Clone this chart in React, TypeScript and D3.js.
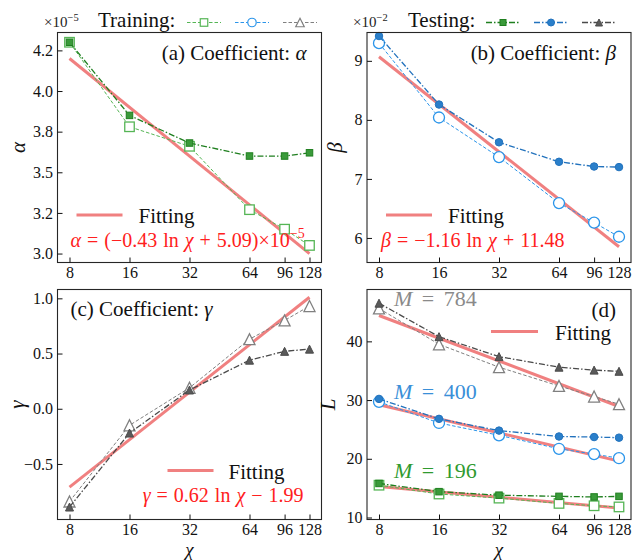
import { useEffect, useRef } from "react";
import * as d3 from "d3";

// ─── Data ────────────────────────────────────────────────────────────────────
const chi = [8, 16, 32, 64, 96, 128];
const chiTickLabels = ["8", "16", "32", "64", "96", "128"];
const fitChi = [8, 128];

// (a) alpha, in units of 1e-5
const alphaTrain = [4.30, 3.78, 3.66, 3.27, 3.15, 3.05];
const alphaTest = [4.30, 3.85, 3.68, 3.60, 3.60, 3.62];
const alphaFit = [4.20, 3.0];
const alphaTicks = [3.0, 3.25, 3.5, 3.75, 4.0, 4.25];
const alphaTickLabels = ["3.0", "3.2", "3.5", "3.8", "4.0", "4.2"];

// (b) beta, in units of 1e-2
const betaTrain = [9.30, 8.04, 7.37, 6.59, 6.26, 6.02];
const betaTest = [9.42, 8.26, 7.62, 7.29, 7.21, 7.20];
const betaFit = [9.07, 5.85];
const betaTicks = [6, 7, 8, 9];
const betaTickLabels = ["6", "7", "8", "9"];

// (c) gamma
const gammaTrain = [-0.84, -0.15, 0.19, 0.63, 0.80, 0.93];
const gammaTest = [-0.89, -0.22, 0.17, 0.44, 0.52, 0.54];
const gammaFit = [-0.71, 1.01];
const gammaTicks = [-0.5, 0, 0.5, 1.0];
const gammaTickLabels = ["\u22120.5", "0.0", "0.5", "1.0"];

// (d) loss L for three M
const lossTrain784 = [45.6, 39.5, 35.6, 32.4, 30.6, 29.3];
const lossTest784 = [46.5, 40.8, 37.4, 35.6, 35.1, 34.9];
const lossFit784 = [44.4, 28.9];
const lossTrain400 = [29.7, 26.1, 24.0, 21.7, 20.8, 20.1];
const lossTest400 = [30.2, 26.8, 24.8, 23.8, 23.7, 23.6];
const lossFit400 = [29.2, 19.6];
const lossTrain196 = [15.5, 14.0, 13.3, 12.4, 12.0, 11.8];
const lossTest196 = [15.8, 14.4, 13.8, 13.6, 13.5, 13.6];
const lossFit196 = [15.3, 11.6];
const lossTicks = [10, 20, 30, 40];
const lossTickLabels = ["10", "20", "30", "40"];

// ─── Style ───────────────────────────────────────────────────────────────────
const FONT = "Times New Roman, Liberation Serif, Times, DejaVu Serif, serif";
const INK = "#111";
const FRAME = "#262626";
const FIT = "#f08080";
const FORMULA = "#ff2020";
const GREEN_TRAIN = "#55b555";
const GREEN_TEST = "#1f7f1f";
const GREEN_FILL = "#3a9a3a";
const BLUE_TRAIN = "#2b95ea";
const BLUE_TEST = "#2272bd";
const BLUE_FILL = "#2a7fca";
const GRAY_TRAIN = "#808080";
const GRAY_TEST = "#4a4a4a";
const GRAY_FILL = "#5a5a5a";

const W = 264;
const H = 230;
const TRAIN_DASH = "3.5,2";
const TEST_DASH = "6,2,1.5,2";

type Shape = "square" | "circle" | "triangle";
type Sel = d3.Selection<any, unknown, null, undefined>;

interface SeriesSpec {
  values: number[];
  shape: Shape;
  test: boolean;
  color: string;
  fill?: string;
}

interface PanelSpec {
  left: number;
  top: number;
  yDomain: [number, number];
  yTicks: number[];
  yTickLabels: string[];
  fits: number[][];
  series: SeriesSpec[];
}

interface Part {
  t: string;
  i?: boolean;
  sup?: boolean;
}

function richText(
  parent: Sel,
  x: number,
  y: number,
  parts: Part[],
  size: number,
  color: string,
  anchor = "start"
) {
  const t = parent
    .append("text")
    .attr("x", x)
    .attr("y", y)
    .style("font-family", FONT)
    .attr("font-size", size)
    .attr("fill", color)
    .attr("text-anchor", anchor);
  parts.forEach((p) => {
    const s = t.append("tspan").text(p.t);
    if (p.i) s.attr("font-style", "italic");
    if (p.sup) s.attr("font-size", size * 0.7).attr("dy", -size * 0.42);
  });
  return t;
}

function drawMarker(
  g: Sel,
  shape: Shape,
  cx: number,
  cy: number,
  size: number,
  fill: string,
  stroke: string,
  sw: number
) {
  if (shape === "square") {
    g.append("rect")
      .attr("x", cx - size / 2)
      .attr("y", cy - size / 2)
      .attr("width", size)
      .attr("height", size)
      .attr("fill", fill)
      .attr("stroke", stroke)
      .attr("stroke-width", sw);
  } else if (shape === "circle") {
    g.append("circle")
      .attr("cx", cx)
      .attr("cy", cy)
      .attr("r", size / 2)
      .attr("fill", fill)
      .attr("stroke", stroke)
      .attr("stroke-width", sw);
  } else {
    const h = size / 2;
    g.append("path")
      .attr("d", `M${cx},${cy - h}L${cx + h},${cy + h}L${cx - h},${cy + h}Z`)
      .attr("fill", fill)
      .attr("stroke", stroke)
      .attr("stroke-width", sw)
      .attr("stroke-linejoin", "miter");
  }
}

function markerSize(shape: Shape, test: boolean) {
  if (test) return shape === "circle" ? 7.5 : shape === "square" ? 6.5 : 8;
  return shape === "circle" ? 11 : shape === "square" ? 9.5 : 11;
}

// ─── One panel: frame, inward ticks, fits and series ────────────────────────
function drawPanel(svg: Sel, p: PanelSpec) {
  const g = svg
    .append("g")
    .attr("transform", `translate(${p.left},${p.top})`);

  const x = d3
    .scaleLog()
    .domain([8 / 2 ** 0.2, 128 * 2 ** 0.2])
    .range([0, W]);
  const y = d3.scaleLinear().domain(p.yDomain).range([H, 0]);

  const line = d3
    .line<[number, number]>()
    .x((d) => x(d[0]))
    .y((d) => y(d[1]));

  // fitting lines
  p.fits.forEach((f) => {
    g.append("path")
      .attr("d", line(fitChi.map((c, i) => [c, f[i]] as [number, number])))
      .attr("fill", "none")
      .attr("stroke", FIT)
      .attr("stroke-width", 3);
  });

  // data series (training first, testing on top)
  p.series.forEach((s) => {
    const pts = chi.map((c, i) => [c, s.values[i]] as [number, number]);
    g.append("path")
      .attr("d", line(pts))
      .attr("fill", "none")
      .attr("stroke", s.color)
      .attr("stroke-width", s.test ? 1.3 : 1)
      .attr("stroke-dasharray", s.test ? TEST_DASH : TRAIN_DASH);
    pts.forEach((d) =>
      drawMarker(
        g,
        s.shape,
        x(d[0]),
        y(d[1]),
        markerSize(s.shape, s.test),
        s.test ? s.fill! : "#fff",
        s.color,
        s.test ? 1 : 1.3
      )
    );
  });

  // frame
  g.append("rect")
    .attr("width", W)
    .attr("height", H)
    .attr("fill", "none")
    .attr("stroke", FRAME)
    .attr("stroke-width", 1.1);

  // axes
  const xAxis = g
    .append("g")
    .attr("transform", `translate(0,${H})`)
    .call(
      d3
        .axisBottom(x)
        .tickValues(chi)
        .tickFormat((_, i) => chiTickLabels[i])
        .tickSizeInner(-5)
        .tickSizeOuter(0)
        .tickPadding(4)
    );
  const yAxis = g.append("g").call(
    d3
      .axisLeft(y)
      .tickValues(p.yTicks)
      .tickFormat((_, i) => p.yTickLabels[i])
      .tickSizeInner(-5)
      .tickSizeOuter(0)
      .tickPadding(4.5)
  );
  [xAxis, yAxis].forEach((a) => {
    a.select(".domain").remove();
    a.attr("font-family", null).attr("font-size", 16).attr("color", INK);
    a.selectAll("text").style("font-family", FONT);
  });

  return { g, x, y };
}

// ─── Figure ──────────────────────────────────────────────────────────────────
export default function App() {
  const svgRef = useRef<SVGSVGElement>(null);

  useEffect(() => {
    if (!svgRef.current) return;
    const svg = d3.select(svgRef.current) as unknown as Sel;
    svg.selectAll("*").remove();

    const L1 = 57.5;
    const L2 = 367;
    const T1 = 32.5;
    const T2 = 289.5;

    // ── (a) alpha ──────────────────────────────────────────────────────────
    const a = drawPanel(svg, {
      left: L1,
      top: T1,
      yDomain: [2.945, 4.36],
      yTicks: alphaTicks,
      yTickLabels: alphaTickLabels,
      fits: [alphaFit],
      series: [
        { values: alphaTrain, shape: "square", test: false, color: GREEN_TRAIN },
        { values: alphaTest, shape: "square", test: true, color: GREEN_TEST, fill: GREEN_FILL },
      ],
    });
    richText(a.g, W - 15, 27, [{ t: "(a) Coefficient: " }, { t: "\u03b1", i: true }], 21, INK, "end");
    a.g.append("line").attr("x1", 19).attr("x2", 65).attr("y1", 182.5).attr("y2", 182.5)
      .attr("stroke", FIT).attr("stroke-width", 3);
    richText(a.g, 81, 190, [{ t: "Fitting" }], 21, INK);
    richText(
      a.g, 13, 214,
      [
        { t: "\u03b1", i: true },
        { t: " = (\u22120.43 ln " },
        { t: "\u03c7", i: true },
        { t: " + 5.09)\u00d710" },
        { t: "\u22125", sup: true },
      ],
      20, FORMULA
    ).attr("word-spacing", 1);

    // ── (b) beta ───────────────────────────────────────────────────────────
    const b = drawPanel(svg, {
      left: L2,
      top: T1,
      yDomain: [5.584, 9.48],
      yTicks: betaTicks,
      yTickLabels: betaTickLabels,
      fits: [betaFit],
      series: [
        { values: betaTrain, shape: "circle", test: false, color: BLUE_TRAIN },
        { values: betaTest, shape: "circle", test: true, color: BLUE_TEST, fill: BLUE_FILL },
      ],
    });
    richText(b.g, W - 15, 27, [{ t: "(b) Coefficient: " }, { t: "\u03b2", i: true }], 21, INK, "end");
    b.g.append("line").attr("x1", 19).attr("x2", 65).attr("y1", 182.5).attr("y2", 182.5)
      .attr("stroke", FIT).attr("stroke-width", 3);
    richText(b.g, 81, 190, [{ t: "Fitting" }], 21, INK);
    richText(
      b.g, 14, 214,
      [
        { t: "\u03b2", i: true },
        { t: " = \u22121.16 ln " },
        { t: "\u03c7", i: true },
        { t: " + 11.48" },
      ],
      20, FORMULA
    ).attr("word-spacing", 1);

    // ── (c) gamma ──────────────────────────────────────────────────────────
    const c = drawPanel(svg, {
      left: L1,
      top: T2,
      yDomain: [-1.003, 1.08],
      yTicks: gammaTicks,
      yTickLabels: gammaTickLabels,
      fits: [gammaFit],
      series: [
        { values: gammaTrain, shape: "triangle", test: false, color: GRAY_TRAIN },
        { values: gammaTest, shape: "triangle", test: true, color: GRAY_TEST, fill: GRAY_FILL },
      ],
    });
    richText(c.g, 13, 26, [{ t: "(c) Coefficient: " }, { t: "\u03b3", i: true }], 21, INK);
    c.g.append("line").attr("x1", 110).attr("x2", 156).attr("y1", 181).attr("y2", 181)
      .attr("stroke", FIT).attr("stroke-width", 3);
    richText(c.g, 171, 189, [{ t: "Fitting" }], 21, INK);
    richText(
      c.g, 246, 212,
      [
        { t: "\u03b3", i: true },
        { t: " = 0.62 ln " },
        { t: "\u03c7", i: true },
        { t: " \u2212 1.99" },
      ],
      20, FORMULA, "end"
    ).attr("word-spacing", 1);

    // ── (d) loss ───────────────────────────────────────────────────────────
    const d = drawPanel(svg, {
      left: L2,
      top: T2,
      yDomain: [9.66, 48.83],
      yTicks: lossTicks,
      yTickLabels: lossTickLabels,
      fits: [lossFit784, lossFit400, lossFit196],
      series: [
        { values: lossTrain784, shape: "triangle", test: false, color: GRAY_TRAIN },
        { values: lossTest784, shape: "triangle", test: true, color: GRAY_TEST, fill: GRAY_FILL },
        { values: lossTrain400, shape: "circle", test: false, color: BLUE_TRAIN },
        { values: lossTest400, shape: "circle", test: true, color: BLUE_TEST, fill: BLUE_FILL },
        { values: lossTrain196, shape: "square", test: false, color: GREEN_TRAIN },
        { values: lossTest196, shape: "square", test: true, color: GREEN_TEST, fill: GREEN_FILL },
      ],
    });
    richText(d.g, W - 15, 27, [{ t: "(d)" }], 21, INK, "end");
    d.g.append("line").attr("x1", 124).attr("x2", 171).attr("y1", 42).attr("y2", 42)
      .attr("stroke", FIT).attr("stroke-width", 3);
    richText(d.g, 188, 50, [{ t: "Fitting" }], 21, INK);
    [
      { label: " = 784", y: 16, color: "#8a8a8a" },
      { label: " = 400", y: 109, color: "#3a8fd8" },
      { label: " = 196", y: 188, color: "#2f9a2f" },
    ].forEach((m) =>
      richText(d.g, 27, m.y, [{ t: "M", i: true }, { t: m.label }], 22, m.color)
        .attr("word-spacing", 4)
    );

    // ── axis labels ────────────────────────────────────────────────────────
    const yLabels = [
      { t: "\u03b1", x: 25, y: T1 + H / 2 },
      { t: "\u03b2", x: 342, y: T1 + H / 2 },
      { t: "\u03b3", x: 24, y: T2 + H / 2 },
      { t: "L", x: 335, y: T2 + H / 2 },
    ];
    yLabels.forEach((l) =>
      svg
        .append("text")
        .attr("transform", `translate(${l.x},${l.y}) rotate(-90)`)
        .attr("text-anchor", "middle")
        .style("font-family", FONT)
        .attr("font-style", "italic")
        .attr("font-size", 21)
        .attr("fill", INK)
        .text(l.t)
    );
    [L1, L2].forEach((lx) =>
      svg
        .append("text")
        .attr("x", lx + W / 2)
        .attr("y", 556)
        .attr("text-anchor", "middle")
        .style("font-family", FONT)
        .attr("font-style", "italic")
        .attr("font-size", 19)
        .attr("fill", INK)
        .text("\u03c7")
    );

    // ── header: offset text + legend ───────────────────────────────────────
    richText(svg, 44, 27, [{ t: "\u00d710" }, { t: "\u22125", sup: true }], 15, "#222");
    richText(svg, 353, 27, [{ t: "\u00d710" }, { t: "\u22122", sup: true }], 15, "#222");
    richText(svg, 98, 27, [{ t: "Training:" }], 21, INK);
    richText(svg, 408, 27, [{ t: "Testing:" }], 21, INK);

    const legendTrain = [
      { cx: 204, shape: "square" as Shape, color: GREEN_TRAIN },
      { cx: 252, shape: "circle" as Shape, color: BLUE_TRAIN },
      { cx: 300, shape: "triangle" as Shape, color: GRAY_TRAIN },
    ];
    const legendTest = [
      { cx: 503, shape: "square" as Shape, color: GREEN_TEST, fill: GREEN_FILL },
      { cx: 551, shape: "circle" as Shape, color: BLUE_TEST, fill: BLUE_FILL },
      { cx: 599, shape: "triangle" as Shape, color: GRAY_TEST, fill: GRAY_FILL },
    ];
    const ly = 22.5;
    legendTrain.forEach((e) => {
      svg.append("line").attr("x1", e.cx - 17).attr("x2", e.cx + 17).attr("y1", ly).attr("y2", ly)
        .attr("stroke", e.color).attr("stroke-width", 1).attr("stroke-dasharray", TRAIN_DASH);
      drawMarker(svg, e.shape, e.cx, ly, e.shape === "square" ? 7.5 : 8.5, "#fff", e.color, 1.2);
    });
    legendTest.forEach((e) => {
      svg.append("line").attr("x1", e.cx - 17).attr("x2", e.cx + 17).attr("y1", ly).attr("y2", ly)
        .attr("stroke", e.color).attr("stroke-width", 1.3).attr("stroke-dasharray", TEST_DASH);
      drawMarker(svg, e.shape, e.cx, ly, e.shape === "square" ? 6 : 7, e.fill, e.color, 1);
    });
  }, []);

  return (
    <svg
      ref={svgRef}
      width={644}
      height={560}
      viewBox="0 0 644 560"
      style={{ position: "absolute", left: 0, top: 0, background: "#fff" }}
    />
  );
}
